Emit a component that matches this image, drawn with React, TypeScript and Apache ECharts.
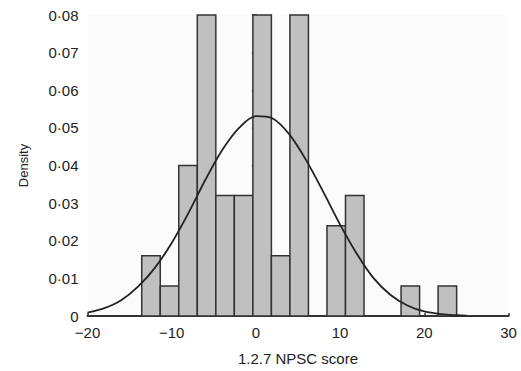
import React, { useEffect, useRef } from "react";
import * as echarts from "echarts";

// Histogram bin edges (NPSC score)
const binEdges = [-13.56, -11.36, -9.16, -6.96, -4.76, -2.56, -0.36, 1.84, 4.04, 6.24, 8.44, 10.64, 12.84, 15.04, 17.24, 19.44, 21.64, 23.84];
// Density of each bin
const binDensity = [0.016, 0.008, 0.04, 0.08, 0.032, 0.032, 0.08, 0.016, 0.08, 0, 0.024, 0.032, 0, 0, 0.008, 0, 0.008];

// Fitted normal curve points
const curveX = [-20, -18, -16, -14, -12, -10, -8, -6, -4, -2, 0, 2, 4, 6, 8, 10, 12, 14, 16, 18, 20, 22, 24, 25];
const curveY = [0.0009, 0.0021, 0.0042, 0.0078, 0.0128, 0.0194, 0.0274, 0.0362, 0.0441, 0.05, 0.0531, 0.0525, 0.0482, 0.0413, 0.033, 0.0243, 0.0165, 0.01, 0.0056, 0.0028, 0.0012, 0.0005, 0.0002, 0.0001];

const xTicks = [-20, -10, 0, 10, 20, 30];
const yTicks = [0, 0.01, 0.02, 0.03, 0.04, 0.05, 0.06, 0.07, 0.08];

const FONT = "'Liberation Sans', Arial, Helvetica, sans-serif";

export default function App() {
  const ref = useRef<HTMLDivElement>(null);

  useEffect(() => {
    if (!ref.current) return;
    const chart = echarts.init(ref.current, undefined, { renderer: "svg" });

    const bars = binDensity
      .map((d, i) => [binEdges[i], binEdges[i + 1], d])
      .filter((b) => b[2] > 0);

    const option: any = {
      animation: false,
      backgroundColor: "#ffffff",
      textStyle: { fontFamily: FONT },
      grid: {
        left: 87.5,
        right: 12.5,
        top: 15,
        bottom: 54,
        show: true,
        backgroundColor: "#fbfbfb",
        borderWidth: 0,
      },
      xAxis: {
        type: "value",
        min: xTicks[0],
        max: xTicks[xTicks.length - 1],
        interval: 10,
        name: "1.2.7 NPSC score",
        nameLocation: "middle",
        nameGap: 35,
        nameTextStyle: { fontSize: 15, color: "#222", fontFamily: FONT },
        axisLine: { show: true, onZero: false, lineStyle: { color: "#333", width: 2 } },
        axisTick: { show: true, inside: true, length: 3, lineStyle: { color: "#333", width: 1.5 } },
        axisLabel: {
          fontSize: 15,
          color: "#222",
          margin: 9,
          fontFamily: FONT,
          formatter: (v: number) => (v < 0 ? "\u2212" + Math.abs(v) : String(v)),
        },
        splitLine: { show: false },
      },
      yAxis: {
        type: "value",
        min: yTicks[0],
        max: yTicks[yTicks.length - 1],
        interval: 0.01,
        name: "Density",
        nameLocation: "middle",
        nameRotate: 90,
        nameGap: 58,
        nameTextStyle: { fontSize: 13, color: "#222", fontFamily: FONT },
        axisLine: { show: true, lineStyle: { color: "#333", width: 2 } },
        axisTick: { show: true, inside: false, length: 4, lineStyle: { color: "#333", width: 1.5 } },
        axisLabel: {
          fontSize: 15,
          color: "#222",
          margin: 9,
          fontFamily: FONT,
          formatter: (v: number) => (Math.abs(v) < 1e-9 ? "0" : v.toFixed(2).replace(".", "\u00b7")),
        },
        splitLine: { show: false },
      },
      series: [
        {
          type: "custom",
          name: "Histogram",
          encode: { x: [0, 1], y: 2 },
          data: bars,
          z: 2,
          renderItem: (params: any, api: any) => {
            const x0 = api.value(0);
            const x1 = api.value(1);
            const h = api.value(2);
            const pTop = api.coord([x0, h]);
            const pBot = api.coord([x1, 0]);
            return {
              type: "rect",
              shape: {
                x: pTop[0],
                y: pTop[1],
                width: pBot[0] - pTop[0],
                height: pBot[1] - pTop[1],
              },
              style: { fill: "#c0c0c0", stroke: "#333333", lineWidth: 1.5 },
            };
          },
        },
        {
          type: "line",
          name: "Normal",
          data: curveX.map((x, i) => [x, curveY[i]]),
          showSymbol: false,
          symbol: "none",
          smooth: 0.3,
          z: 3,
          lineStyle: { color: "#222", width: 1.8 },
        },
      ],
    };

    chart.setOption(option);
    return () => chart.dispose();
  }, []);

  return (
    <div
      ref={ref}
      style={{ position: "fixed", left: 0, top: 0, width: 521, height: 371 }}
    />
  );
}
